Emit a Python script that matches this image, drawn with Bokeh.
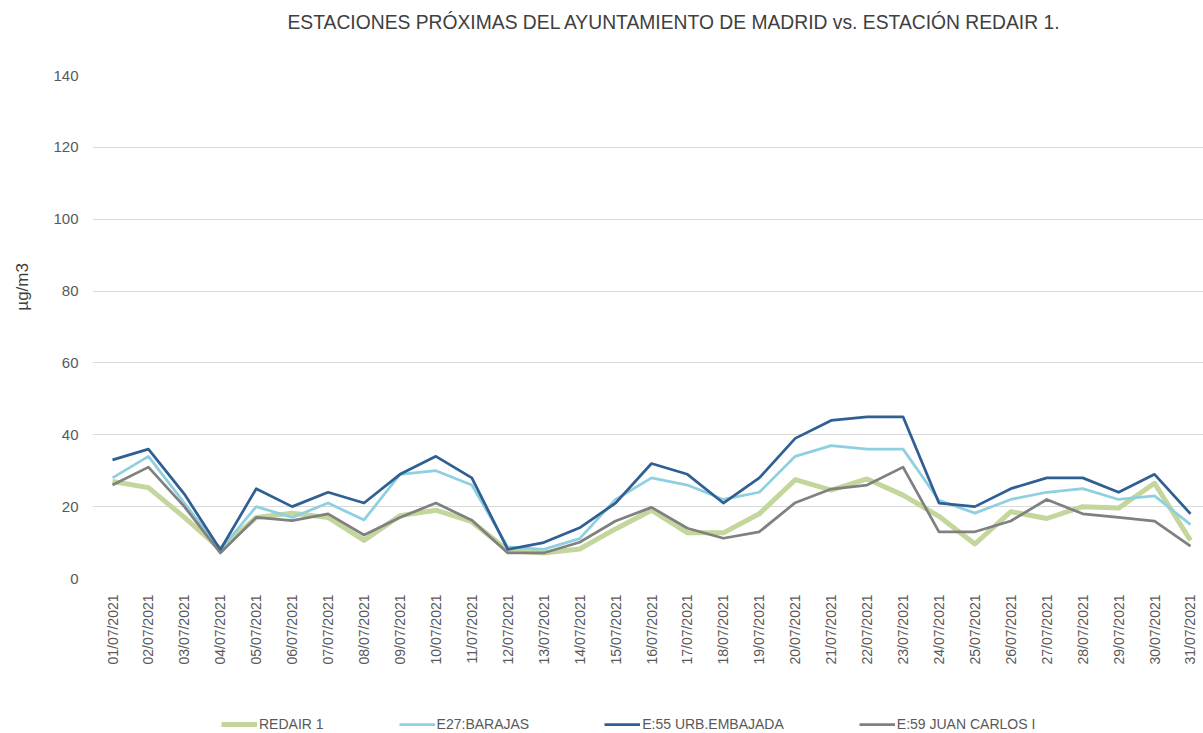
from bokeh.plotting import figure
from bokeh.models import Range1d, FixedTicker, Legend, LegendItem, Title
from bokeh.layouts import column
from bokeh.embed import file_html
from bokeh.resources import INLINE

dates = ["%02d/07/2021" % d for d in range(1, 32)]

redair1 = [27, 25.3, 17, 8.2, 17, 18.2, 17, 10.6, 17.5, 19, 15.8, 7.8, 7.1, 8.2, 13.8,
           19, 12.7, 12.7, 18, 27.5, 24.6, 27.7, 23.2, 17.3, 9.6, 18.6, 16.7, 20, 19.6, 26.5, 10.6]
barajas = [28, 34, 21, 8, 20, 17, 21, 16.3, 29, 30, 26, 8.8, 8.1, 11.1, 22,
           28, 26, 22, 24, 34, 37, 36, 36, 21.8, 18.2, 22, 24, 25, 22, 23, 15]
embajada = [33, 36, 23.5, 8, 25, 20, 24, 21, 29, 34, 28, 8.1, 10, 14.1, 21,
            32, 29, 21, 28, 39, 44, 45, 45, 21, 20, 25, 28, 28, 24, 29, 18]
juancarlos = [26, 31, 20, 7.1, 17, 16.1, 18, 12.1, 17, 21, 16.2, 7.1, 7.1, 10.1, 16,
              19.8, 14, 11.2, 13, 21.1, 24.9, 26, 31, 13, 13, 16, 22, 18, 17, 16, 9]

series_names = ["REDAIR 1", "E27:BARAJAS", "E:55 URB.EMBAJADA", "E:59 JUAN CARLOS I"]
series_vals = [redair1, barajas, embajada, juancarlos]
colors = ["#c3d69b", "#8ecfe0", "#2f5f93", "#808080"]
widths = [5, 2.75, 2.75, 2.75]

title_text = "ESTACIONES PRÓXIMAS DEL AYUNTAMIENTO DE MADRID vs.  ESTACIÓN REDAIR 1."
y_label = "µg/m3"
y_ticks = [0, 20, 40, 60, 80, 100, 120, 140]

x = list(range(1, len(dates) + 1))
FONT = "Liberation Sans"
TXT = "#595959"
W = 1203

# --- title strip ---
p0 = figure(width=W, height=50, output_backend="svg", toolbar_location=None,
            x_axis_type=None, y_axis_type=None, min_border=0)
p0.outline_line_color = None
p0.grid.visible = False
p0.title = Title(text=title_text, align="left", offset=195, vertical_align="top",
                 text_font=FONT, text_font_size="19.3px", text_font_style="normal",
                 text_color="#404040", standoff=22)

# --- main chart ---
p = figure(width=W, height=653, output_backend="svg", toolbar_location=None,
           x_range=Range1d(0.443, 31.362), y_range=Range1d(0, 140),
           min_border_left=92, min_border_right=0, min_border_top=25, min_border_bottom=125)
p.outline_line_color = None
p.background_fill_color = "white"
p.border_fill_color = "white"

for vals, c, w in zip(series_vals, colors, widths):
    p.line(x, vals, line_color=c, line_width=w, line_join="round")

p.xaxis.ticker = FixedTicker(ticks=x)
p.xaxis.major_label_overrides = {i: d for i, d in zip(x, dates)}
p.xaxis.major_label_orientation = 1.5708
p.xaxis.major_label_text_font = FONT
p.xaxis.major_label_text_font_size = "14px"
p.xaxis.major_label_text_color = TXT
p.xaxis.axis_line_color = None
p.xaxis.major_tick_line_color = None
p.xaxis.minor_tick_line_color = None
p.xaxis.major_label_standoff = 10

p.yaxis.ticker = FixedTicker(ticks=y_ticks)
p.yaxis.major_label_text_font = FONT
p.yaxis.major_label_text_font_size = "15px"
p.yaxis.major_label_text_color = TXT
p.yaxis.axis_line_color = None
p.yaxis.major_tick_line_color = None
p.yaxis.minor_tick_line_color = None
p.yaxis.major_label_standoff = 8
p.yaxis.axis_label = "\u00a0" * 17 + y_label
p.yaxis.axis_label_text_font = FONT
p.yaxis.axis_label_text_font_size = "17px"
p.yaxis.axis_label_text_font_style = "normal"
p.yaxis.axis_label_text_color = "#404040"
p.yaxis.axis_label_standoff = 18

p.xgrid.grid_line_color = None
p.ygrid.grid_line_color = "#d9d9d9"
p.ygrid.grid_line_width = 1

# --- legend strip (swatch renderers kept out of view) ---
p2 = figure(width=W, height=30, output_backend="svg", toolbar_location=None,
            x_axis_type=None, y_axis_type=None, min_border=0,
            y_range=Range1d(1000, 1001))
p2.outline_line_color = None
p2.grid.visible = False
swatches = [p2.line(x, vals, line_color=c, line_width=w)
            for vals, c, w in zip(series_vals, colors, widths)]

legend = Legend(items=[LegendItem(label=n, renderers=[r]) for n, r in zip(series_names, swatches)],
                orientation="horizontal", location=(129, 1),
                label_text_font=FONT, label_text_font_size="14px", label_text_color=TXT,
                glyph_width=36, glyph_height=12, spacing=75, label_standoff=2,
                border_line_color=None, background_fill_alpha=0, padding=0, margin=0)
p2.add_layout(legend, "center")

open("out.html", "w").write(file_html(column(p0, p, p2, spacing=0), INLINE))
